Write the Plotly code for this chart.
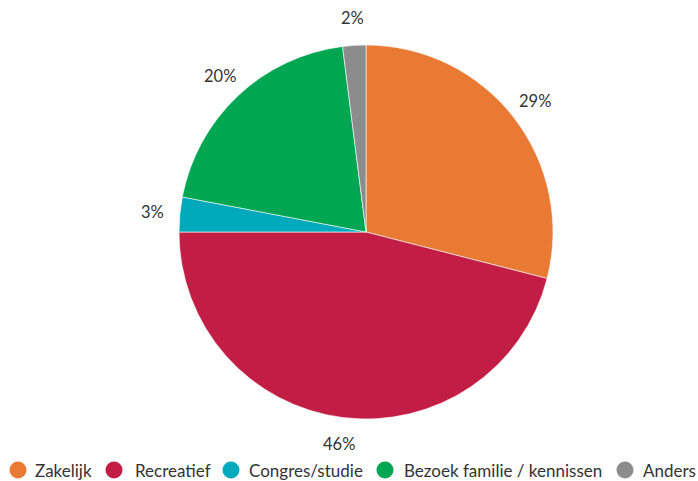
import math
import plotly.graph_objects as go

categories = ["Zakelijk", "Recreatief", "Congres/studie", "Bezoek familie / kennissen", "Anders"]
values = [29, 46, 3, 20, 2]
colors = ["#E97A33", "#C21E45", "#00AABC", "#00A651", "#8C8C8C"]

FONT = "Lato"
W, H = 698, 481
CX, CY, R = 366, 232, 187      # pie centre / radius in pixels
LABEL_R = 214                  # radius of the percentage labels
legend_circle_x = [18, 114, 231, 385, 625]
legend_text_x = [35, 135, 249, 404, 643]
LEGEND_Y = 470

fig = go.Figure()
fig.add_trace(go.Pie(
    labels=categories, values=values, sort=False, direction="clockwise", rotation=0,
    marker=dict(colors=colors, line=dict(color="white", width=0.6)),
    textinfo="none", showlegend=False, hoverinfo="label+percent",
    domain=dict(x=[(CX - R) / W, (CX + R) / W], y=[(H - CY - R) / H, (H - CY + R) / H]),
))

total = sum(values)
cum = 0
annotations = []
shapes = []
for v in values:
    mid = (cum + v / 2) / total * 2 * math.pi
    cum += v
    px = CX + LABEL_R * math.sin(mid)
    py = CY - LABEL_R * math.cos(mid)
    annotations.append(dict(x=px / W, y=(H - py) / H, xref="paper", yref="paper",
                            text=f"{v}%", showarrow=False, xanchor="center", yanchor="middle",
                            font=dict(family=FONT, size=16.5, color="#333333")))

for c, col, cxp, tx in zip(categories, colors, legend_circle_x, legend_text_x):
    shapes.append(dict(type="circle", xref="paper", yref="paper",
                       x0=(cxp - 8.5) / W, x1=(cxp + 8.5) / W,
                       y0=(H - LEGEND_Y - 8.5) / H, y1=(H - LEGEND_Y + 8.5) / H,
                       fillcolor=col, line=dict(width=0)))
    annotations.append(dict(x=tx / W, y=(H - LEGEND_Y) / H, xref="paper", yref="paper",
                            text=c, showarrow=False, xanchor="left", yanchor="middle",
                            xshift=-2,
                            font=dict(family=FONT, size=17, color="#333333")))

fig.update_layout(
    width=W, height=H,
    margin=dict(l=0, r=0, t=0, b=0),
    paper_bgcolor="white", plot_bgcolor="white",
    font=dict(family=FONT, size=16, color="#333333"),
    annotations=annotations, shapes=shapes, showlegend=False,
)
fig.write_html("out.html", config={"displayModeBar": False},
               post_script="document.body.style.margin='0';document.body.style.overflow='hidden';")
